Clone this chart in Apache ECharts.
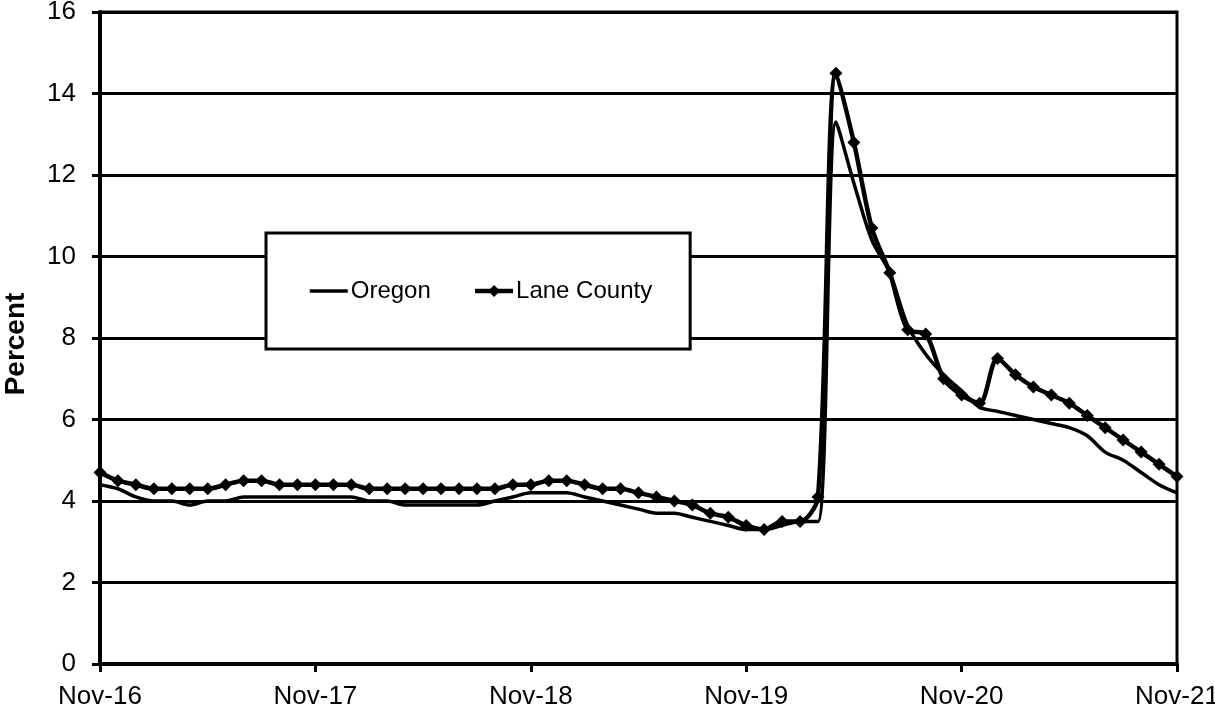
<!DOCTYPE html>
<html>
<head>
<meta charset="utf-8">
<script src="https://cdn.jsdelivr.net/npm/echarts@6/dist/echarts.min.js"></script>
<style>
html,body{margin:0;padding:0;background:#fff;}
#chart{width:1215px;height:708px;}
</style>
</head>
<body>
<div id="chart"></div>
<script>
const categories = [
  "Nov-16","Dec-16","Jan-17","Feb-17","Mar-17","Apr-17","May-17","Jun-17","Jul-17","Aug-17","Sep-17","Oct-17",
  "Nov-17","Dec-17","Jan-18","Feb-18","Mar-18","Apr-18","May-18","Jun-18","Jul-18","Aug-18","Sep-18","Oct-18",
  "Nov-18","Dec-18","Jan-19","Feb-19","Mar-19","Apr-19","May-19","Jun-19","Jul-19","Aug-19","Sep-19","Oct-19",
  "Nov-19","Dec-19","Jan-20","Feb-20","Mar-20","Apr-20","May-20","Jun-20","Jul-20","Aug-20","Sep-20","Oct-20",
  "Nov-20","Dec-20","Jan-21","Feb-21","Mar-21","Apr-21","May-21","Jun-21","Jul-21","Aug-21","Sep-21","Oct-21",
  "Nov-21"
];
const oregon = [
  4.4,4.3,4.1,4.0,4.0,3.9,4.0,4.0,4.1,4.1,4.1,4.1,
  4.1,4.1,4.1,4.0,4.0,3.9,3.9,3.9,3.9,3.9,4.0,4.1,
  4.2,4.2,4.2,4.1,4.0,3.9,3.8,3.7,3.7,3.6,3.5,3.4,
  3.3,3.3,3.4,3.5,3.5,13.3,11.8,10.4,9.6,8.3,7.6,7.1,
  6.7,6.3,6.2,6.1,6.0,5.9,5.8,5.6,5.2,5.0,4.7,4.4,
  4.2
];
const lane = [
  4.7,4.5,4.4,4.3,4.3,4.3,4.3,4.4,4.5,4.5,4.4,4.4,
  4.4,4.4,4.4,4.3,4.3,4.3,4.3,4.3,4.3,4.3,4.3,4.4,
  4.4,4.5,4.5,4.4,4.3,4.3,4.2,4.1,4.0,3.9,3.7,3.6,
  3.4,3.3,3.5,3.5,4.1,14.5,12.8,10.7,9.6,8.2,8.1,7.0,
  6.6,6.4,7.5,7.1,6.8,6.6,6.4,6.1,5.8,5.5,5.2,4.9,
  4.6
];
const yTicks = { min: 0, max: 16, interval: 2 };

const font = "'Liberation Sans', Arial, sans-serif";
const chart = echarts.init(document.getElementById('chart'), null, { renderer: 'canvas' });
chart.setOption({
  backgroundColor: '#fff',
  animation: false,
  textStyle: { fontFamily: font, color: '#000' },
  grid: {
    left: 100, right: 38, top: 12, bottom: 44,
    containLabel: false,
    outerBoundsMode: 'none',
    show: true, borderColor: '#000', borderWidth: 3, backgroundColor: 'transparent'
  },
  legend: {
    left: 266, top: 233,
    orient: 'horizontal',
    backgroundColor: '#fff',
    borderColor: '#000',
    borderWidth: 3,
    borderRadius: 0,
    padding: [46, 38, 46, 42],
    itemGap: 42,
    itemWidth: 38,
    itemHeight: 15,
    textStyle: { fontFamily: font, fontSize: 24, color: '#000', padding: [0, 0, 0, -2] },
    data: [
      { name: 'Oregon', itemStyle: { opacity: 0 }, lineStyle: { width: 3.5, color: '#000' } },
      { name: 'Lane County', lineStyle: { width: 4.5, color: '#000' } }
    ]
  },
  xAxis: {
    type: 'category',
    data: categories,
    boundaryGap: false,
    axisLine: { show: true, lineStyle: { color: '#000', width: 4 } },
    axisTick: { show: true, inside: false, length: 8, interval: 11, alignWithLabel: true, lineStyle: { color: '#000', width: 3 } },
    axisLabel: { interval: 11, margin: 20, fontSize: 26, color: '#000', fontFamily: font },
    splitLine: { show: false }
  },
  yAxis: {
    type: 'value',
    min: yTicks.min, max: yTicks.max, interval: yTicks.interval,
    name: 'Percent',
    nameLocation: 'middle',
    nameGap: 70,
    nameTextStyle: { fontFamily: font, fontSize: 28, fontWeight: 'bold', color: '#000', padding: [0, 12, 0, 0] },
    axisLine: { show: true, lineStyle: { color: '#000', width: 4 } },
    axisTick: { show: true, inside: false, length: 8, lineStyle: { color: '#000', width: 3 } },
    axisLabel: { margin: 24, fontSize: 26, color: '#000', fontFamily: font },
    splitLine: { show: true, lineStyle: { color: '#000', width: 3 } }
  },
  series: [
    {
      name: 'Oregon',
      type: 'line',
      data: oregon,
      smooth: 0.3,
      symbol: 'none',
      lineStyle: { color: '#000', width: 3.5 },
      itemStyle: { color: '#000' }
    },
    {
      name: 'Lane County',
      type: 'line',
      data: lane,
      smooth: 0.3,
      symbol: 'diamond',
      symbolSize: 13,
      showSymbol: true,
      showAllSymbol: true,
      lineStyle: { color: '#000', width: 4.5 },
      itemStyle: { color: '#000' }
    }
  ]
});
</script>
</body>
</html>
